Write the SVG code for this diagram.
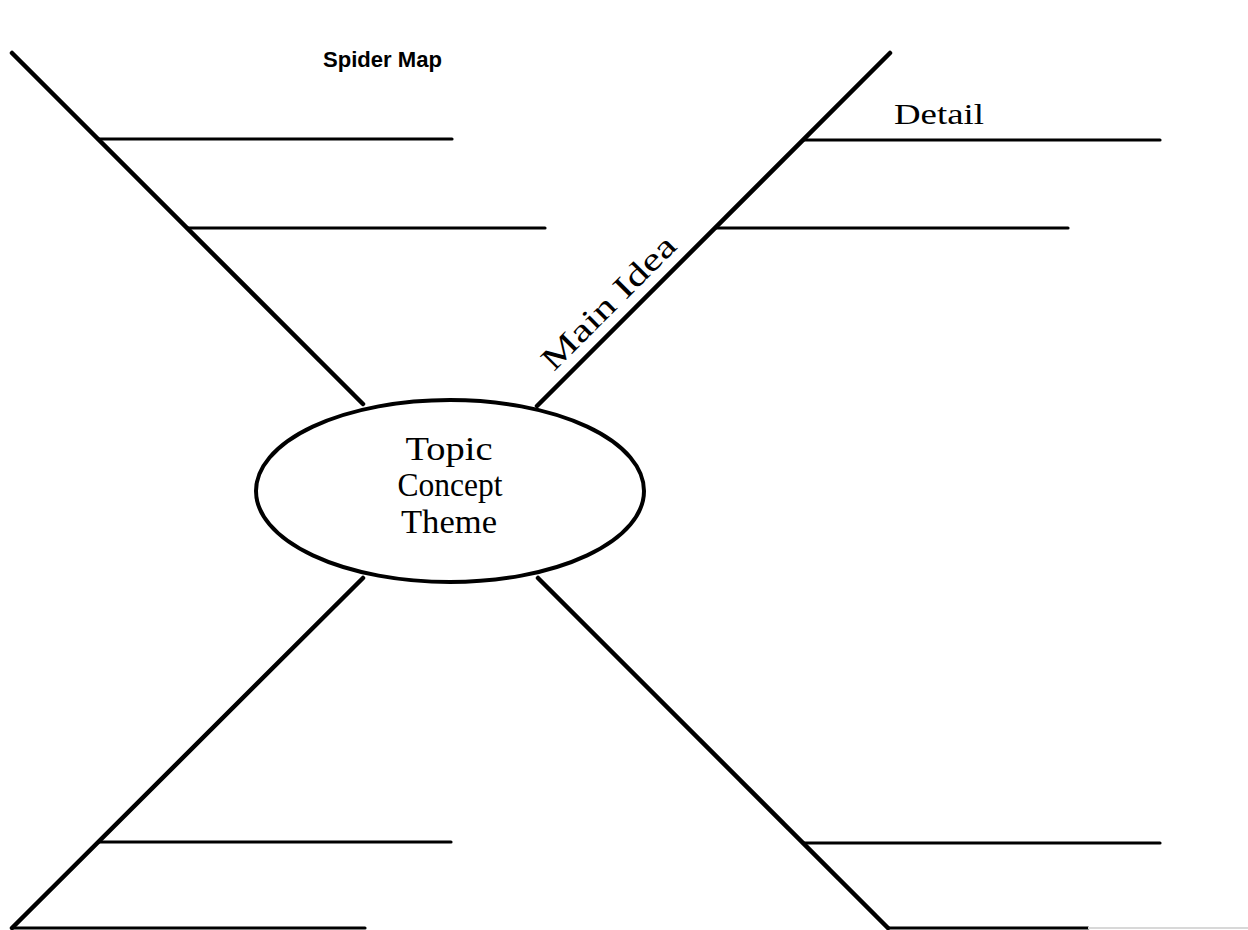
<svg xmlns="http://www.w3.org/2000/svg" width="1248" height="930" viewBox="0 0 1248 930">
  <style>
    .leg { stroke: #000; stroke-width: 4.5; stroke-linecap: round; fill: none; }
    .rung { stroke: #000; stroke-width: 3.2; stroke-linecap: round; fill: none; }
    .serif { font-family: "Liberation Serif", "Times New Roman", serif; fill: #000; }
    .title { font-family: "Liberation Sans", Arial, sans-serif; font-weight: bold; font-size: 22px; fill: #000; }
  </style>
  <rect width="1248" height="930" fill="#fff"/>

  <text class="title" x="323" y="67" textLength="119" lengthAdjust="spacingAndGlyphs">Spider Map</text>

  <g id="connectors">
    <!-- upper left leg and its detail lines -->
    <line class="leg" x1="12" y1="53" x2="363" y2="404"/>
    <line class="rung" x1="98" y1="139" x2="452" y2="139"/>
    <line class="rung" x1="187" y1="228" x2="545" y2="228"/>
    <!-- upper right leg and its detail lines -->
    <line class="leg" x1="890" y1="53" x2="537" y2="406"/>
    <line class="rung" x1="803" y1="140" x2="1160" y2="140" stroke-width="2.5"/>
    <line class="rung" x1="715" y1="228" x2="1068" y2="228"/>
    <!-- lower left leg and its detail lines -->
    <line class="leg" x1="363" y1="578" x2="12" y2="928"/>
    <line class="rung" x1="99" y1="842" x2="451" y2="842"/>
    <line class="rung" x1="12" y1="928" x2="365" y2="928"/>
    <!-- lower right leg and its detail lines -->
    <line class="leg" x1="538" y1="578" x2="888" y2="928"/>
    <line class="rung" x1="803" y1="843" x2="1160" y2="843"/>
    <line class="rung" x1="888" y1="928" x2="1088" y2="928"/>
    <line x1="1088" y1="928" x2="1248" y2="928" stroke="#d8d8d8" stroke-width="2"/>
  </g>

  <g id="label-main-idea">
    <text class="serif" font-size="32" x="616" y="310" text-anchor="middle" textLength="176" lengthAdjust="spacingAndGlyphs" transform="rotate(-45 616 310)">Main Idea</text>
  </g>

  <g id="label-detail">
    <text class="serif" font-size="30" x="894" y="124" textLength="90" lengthAdjust="spacingAndGlyphs">Detail</text>
  </g>

  <g id="topic">
    <ellipse cx="450" cy="491" rx="194" ry="91" fill="#fff" stroke="#000" stroke-width="4"/>
    <text class="serif" font-size="33" x="449" y="460" text-anchor="middle" textLength="87" lengthAdjust="spacingAndGlyphs">Topic</text>
    <text class="serif" font-size="33" x="450" y="496" text-anchor="middle" textLength="105" lengthAdjust="spacingAndGlyphs">Concept</text>
    <text class="serif" font-size="33" x="449" y="533" text-anchor="middle" textLength="96" lengthAdjust="spacingAndGlyphs">Theme</text>
  </g>
</svg>
